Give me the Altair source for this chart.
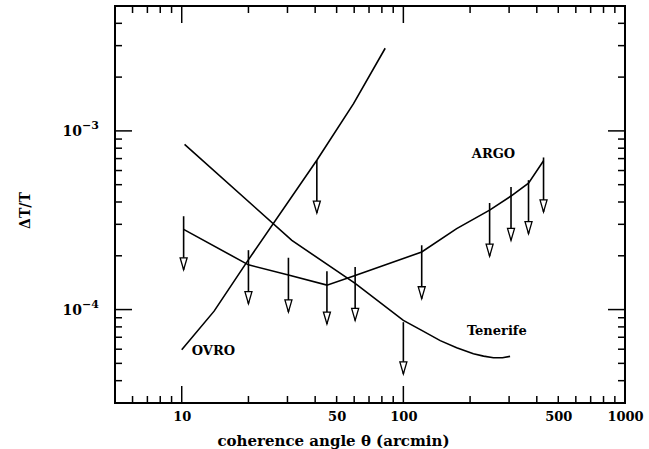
import altair as alt
import pandas as pd

# ---- data ----
ovro_x = [10, 14.0, 19.7, 40.7, 59.6, 82.8]
ovro_y = [5.96e-5, 9.8e-5, 1.85e-4, 6.85e-4, 1.42e-3, 2.9e-3]

ten_x = [10.3, 31.4, 60.6, 100, 121, 146.7, 174, 207, 230, 255, 280, 303]
ten_y = [8.4e-4, 2.44e-4, 1.40e-4, 8.7e-5, 7.65e-5, 6.7e-5, 6.12e-5, 5.66e-5,
         5.49e-5, 5.37e-5, 5.37e-5, 5.47e-5]

argo_x = [10.2, 20, 30.3, 45.2, 60.6, 121, 174, 245, 306, 367, 429]
argo_y = [2.81e-4, 1.78e-4, 1.56e-4, 1.37e-4, 1.55e-4, 2.1e-4, 2.84e-4,
          3.6e-4, 4.32e-4, 5.1e-4, 6.8e-4]

# upper-limit arrows: x, stem top, arrow tip
arrow_x = [10.2, 20, 30.3, 45.2, 60.6, 121, 245, 306, 367, 429, 40.7, 100]
arrow_top = [3.33e-4, 2.15e-4, 1.95e-4, 1.64e-4, 1.73e-4, 2.29e-4, 3.95e-4,
             4.86e-4, 5.3e-4, 7.1e-4, 6.85e-4, 8.5e-5]
arrow_tip = [1.67e-4, 1.08e-4, 9.7e-5, 8.3e-5, 8.7e-5, 1.15e-4, 1.99e-4,
             2.44e-4, 2.66e-4, 3.52e-4, 3.47e-4, 4.37e-5]

label_text = ["OVRO", "ARGO", "Tenerife"]
label_x = [13.9, 255, 264]
label_y = [5.9e-5, 7.47e-4, 7.55e-5]

x_labels = [10, 50, 100, 500, 1000]
y_labels = [1e-4, 1e-3]
y_label_base = ["10", "10"]
y_label_exp = ["−4", "−3"]
x_major = [10, 100]
x_minor = [6, 7, 8, 9, 20, 30, 40, 50, 60, 70, 80, 90,
           200, 300, 400, 500, 600, 700, 800, 900]
y_major = [1e-4, 1e-3]
y_minor = [4e-5, 5e-5, 6e-5, 7e-5, 8e-5, 9e-5,
           2e-4, 3e-4, 4e-4, 5e-4, 6e-4, 7e-4, 8e-4, 9e-4,
           2e-3, 3e-3, 4e-3]

W, H = 510, 397
MAJ, MIN = 17, 7
FONT = "DejaVu Serif"

# ---- tables ----
lines = pd.concat([
    pd.DataFrame({"x": ovro_x, "y": ovro_y, "s": "OVRO"}),
    pd.DataFrame({"x": ten_x, "y": ten_y, "s": "Tenerife"}),
    pd.DataFrame({"x": argo_x, "y": argo_y, "s": "ARGO"}),
])
arrows = pd.DataFrame({"x": arrow_x, "y": arrow_top, "y2": arrow_tip})
labels = pd.DataFrame({"x": label_x, "y": label_y, "t": label_text})
ylab = pd.DataFrame({"y": y_labels, "b": y_label_base, "e": y_label_exp})

xs = alt.Scale(type="log", domain=[5, 1000], nice=False, zero=False)
ys = alt.Scale(type="log", domain=[3e-5, 5e-3], nice=False, zero=False)

xaxis = alt.Axis(values=x_labels, ticks=False, domain=False, grid=False,
                 labelFlush=False, labelFont=FONT, labelFontSize=13,
                 labelFontWeight="bold", labelColor="black", labelPadding=7,
                 format="d",
                 title="coherence angle θ (arcmin)", titleFont=FONT,
                 titleFontSize=15, titleFontWeight="bold", titleColor="black",
                 titleX=218, titleAlign="center",
                 titleY=42, titleBaseline="alphabetic")
yaxis = alt.Axis(values=y_labels, ticks=False, domain=False, grid=False,
                 labels=False,
                 title="ΔT/T", titleFont=FONT, titleFontSize=14,
                 titleFontWeight="bold", titleColor="black",
                 titleX=-90, titleY=204, titleAngle=270,
                 titleAlign="center", titleBaseline="middle")

X = alt.X("x:Q", scale=xs, axis=xaxis)
Y = alt.Y("y:Q", scale=ys, axis=yaxis)

line_layer = alt.Chart(lines).mark_line(color="black", strokeWidth=1.6).encode(
    x=X, y=Y, detail="s:N")

stems = alt.Chart(arrows).mark_rule(color="black", strokeWidth=1.6).encode(
    x=X, y=Y, y2="y2:Q")

heads = alt.Chart(arrows).mark_point(
    shape="M-1.17,-4L1.17,-4L0,0Z", size=36, fill="white", stroke="black",
    fillOpacity=1, strokeOpacity=1, strokeWidth=1.3, filled=False,
).encode(x=X, y=alt.Y("y2:Q", scale=ys, axis=yaxis))

text_layer = alt.Chart(labels).mark_text(
    font=FONT, fontSize=13, fontWeight="bold", color="black"
).encode(x=X, y=Y, text="t:N")

ybase = alt.Chart(ylab).mark_text(
    font=FONT, fontSize=14, fontWeight="bold", color="black",
    align="right", baseline="middle", dy=1
).encode(x=alt.value(-33), y=Y, text="b:N")
yexp = alt.Chart(ylab).mark_text(
    font=FONT, fontSize=11, fontWeight="bold", color="black",
    align="left", baseline="middle", dy=-5
).encode(x=alt.value(-33), y=Y, text="e:N")


def xticks(vals, length):
    df = pd.DataFrame({"x": vals})
    b = alt.Chart(df).mark_rule(color="black", strokeWidth=1.5).encode(
        x=X, y=alt.value(H), y2=alt.value(H - length))
    t = alt.Chart(df).mark_rule(color="black", strokeWidth=1.5).encode(
        x=X, y=alt.value(0), y2=alt.value(length))
    return [b, t]


def yticks(vals, length):
    df = pd.DataFrame({"y": vals})
    l = alt.Chart(df).mark_rule(color="black", strokeWidth=1.5).encode(
        y=Y, x=alt.value(0), x2=alt.value(length))
    r = alt.Chart(df).mark_rule(color="black", strokeWidth=1.5).encode(
        y=Y, x=alt.value(W), x2=alt.value(W - length))
    return [l, r]


tick_layers = xticks(x_major, MAJ) + xticks(x_minor, MIN) + \
    yticks(y_major, MAJ) + yticks(y_minor, MIN)

chart = alt.layer(
    *tick_layers, line_layer, stems, heads, text_layer, ybase, yexp
).properties(
    width=W, height=H,
    autosize=alt.AutoSizeParams(type="none"),
    padding={"left": 115, "top": 6, "right": 24, "bottom": 46},
    background="white",
).configure_view(stroke="black", strokeWidth=2)

chart.save("out.html", embed_options={"renderer": "svg", "actions": False})
